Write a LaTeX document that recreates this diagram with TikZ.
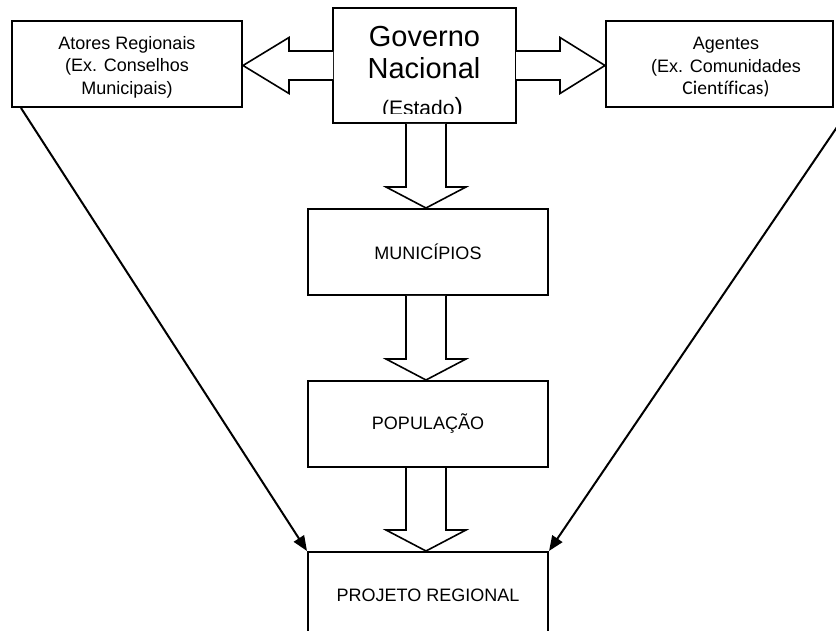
\documentclass[tikz,border=0pt]{standalone}
\usepackage{fontspec}
\setmainfont{Liberation Sans}
\newfontfamily\carlitofont[Ligatures=NoCommon]{Carlito}
\usetikzlibrary{arrows.meta,calc}
\tikzset{
  box/.style={draw, line width=2pt, fill=white, inner sep=0pt, minimum height=86pt,
    font=\fontsize{18}{22.5}\selectfont},
  lbl/.style={font=\fontsize{18}{22.5}\selectfont, align=center, inner sep=0pt},
  blockarrow/.style={draw, fill=white, line width=1.6pt, line join=miter},
  diag/.style={line width=2pt, -{Triangle[length=15pt,width=12pt]}},
}
\newcommand\dblock[2]{%
  \coordinate (t#2) at ($(#2.north)+(-2,0)$);
  \path[blockarrow] ($(t#2 |- #1.south)+(-20,0)$) -- ($(t#2)+(-20,-21)$) -- ($(t#2)+(-40,-21)$)
    -- (t#2) -- ($(t#2)+(40,-21)$) -- ($(t#2)+(20,-21)$) -- ($(t#2 |- #1.south)+(20,0)$);}
\begin{document}
\begin{tikzpicture}[x=1pt,y=-1pt]
\useasboundingbox (0,0) rectangle (836,631);
% boxes
\node[box, minimum width=230pt] (atores) at (127,64) {};
\node[box, minimum width=183pt, minimum height=115pt] (gov) at (424.5,65.5) {};
\node[box, minimum width=227pt] (agentes) at (719.5,64) {};
\node[box, minimum width=240pt] (mun) at (428,252) {MUNICÍPIOS};
\node[box, minimum width=240pt] (pop) at (428,424) {POPULAÇÃO};
\node[box, minimum width=240pt] (proj) at (428,595) {PROJETO REGIONAL};
% texts
\node[lbl] (atoresT) at (127,67) {Atores Regionais\\(Ex. Conselhos\\Municipais)};
\node[lbl] (agentesT) at (726,67.5) {Agentes\\(Ex. Comunidades\\{\carlitofont\fontsize{19.5}{22.5}\selectfont Científicas)}};
\node[anchor=base, inner sep=0pt, font=\fontsize{29}{33}\selectfont] (govA) at (424.5,47) {Governo};
\node[anchor=base, inner sep=0pt, font=\fontsize{29}{33}\selectfont] (govB) at (424,79) {Nacional};
\begin{scope}
  \clip (333,8) rectangle (516,113.5);
  \node[anchor=base, inner sep=0pt] (govC) at (422.5,116) {\fontsize{21}{21}\selectfont(Estado\fontsize{25}{25}\selectfont)};
\end{scope}
% horizontal block arrows
\coordinate (ltip) at (atores.east |- gov.west);
\path[blockarrow] ($(gov.west)+(1,-14.5)$) -- ($(ltip)+(46,-14.5)$) -- ($(ltip)+(46,-28)$)
  -- (ltip) -- ($(ltip)+(46,28)$) -- ($(ltip)+(46,14.5)$) -- ($(gov.west)+(1,14.5)$);
\coordinate (rtip) at (agentes.west |- gov.east);
\path[blockarrow] ($(gov.east)+(-1,-14.5)$) -- ($(rtip)+(-45,-14.5)$) -- ($(rtip)+(-45,-28)$)
  -- (rtip) -- ($(rtip)+(-45,28)$) -- ($(rtip)+(-45,14.5)$) -- ($(gov.east)+(-1,14.5)$);
% vertical block arrows
\dblock{gov}{mun}
\dblock{mun}{pop}
\dblock{pop}{proj}
% diagonal arrows
\draw[diag] ($(atores.south west)+(10,0)$) -- (proj.north west);
\draw[diag] ($(agentes.south east)+(16,0)$) -- (proj.north east);
\end{tikzpicture}
\end{document}
